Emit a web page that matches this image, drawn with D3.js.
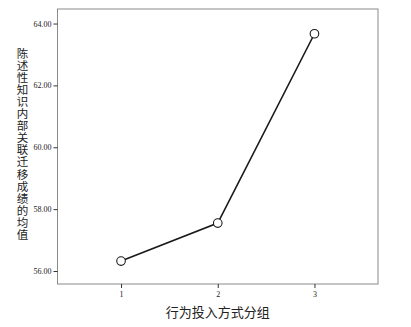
<!DOCTYPE html>
<html><head><meta charset="utf-8">
<script src="https://cdn.jsdelivr.net/npm/d3@7"></script>
<style>body{margin:0;background:#fff}svg{display:block}</style>
</head><body><svg id="c" width="411" height="327"></svg>
<script>
const categories = [1, 2, 3];
const means = [56.32, 57.55, 63.67];
const yTicks = [56, 58, 60, 62, 64];
const xTitle = "行为投入方式分组";
const yTitle = "陈述性知识内部关联迁移成绩的均值";

const svg = d3.select("#c");
const L = 57.5, R = 378, T = 9, B = 284;
const x = d3.scaleLinear().domain([0.343, 3.657]).range([L, R]);
const y = d3.scaleLinear().domain([55.58, 64.47]).range([B, T]);

svg.append("rect").attr("x", L).attr("y", T).attr("width", R - L).attr("height", B - T)
  .attr("fill", "none").attr("stroke", "#8a8a8a").attr("stroke-width", 1);

const ya = svg.append("g").attr("transform", `translate(${L},0)`)
  .call(d3.axisLeft(y).tickValues(yTicks).tickFormat(d3.format(".2f")).tickSize(4).tickPadding(2));
ya.select(".domain").remove();
ya.selectAll("text").attr("font-family", "Liberation Serif, serif").attr("font-size", 8).attr("fill", "#222");
ya.selectAll("line").attr("stroke", "#333");

const xa = svg.append("g").attr("transform", `translate(0,${B})`)
  .call(d3.axisBottom(x).tickValues(categories).tickFormat(d3.format("d")).tickSize(4).tickPadding(3));
xa.select(".domain").remove();
xa.selectAll("text").attr("font-family", "Liberation Serif, serif").attr("font-size", 8).attr("fill", "#222");
xa.selectAll("line").attr("stroke", "#333");

const pts = categories.map((c, i) => [x(c), y(means[i])]);
svg.append("path").attr("d", d3.line()(pts)).attr("fill", "none")
  .attr("stroke", "#1a1a1a").attr("stroke-width", 1.6);
svg.selectAll("circle.p").data(pts).enter().append("circle")
  .attr("cx", d => d[0]).attr("cy", d => d[1]).attr("r", 4.3)
  .attr("fill", "#fff").attr("stroke", "#1a1a1a").attr("stroke-width", 1.1);

svg.append("text").attr("x", (L + R) / 2).attr("y", 317).attr("text-anchor", "middle")
  .attr("font-family", "Noto Sans CJK SC, sans-serif").attr("font-size", 13).attr("fill", "#222")
  .text(xTitle);

const yt = svg.append("g");
const chars = Array.from(yTitle);
chars.forEach((ch, i) => {
  yt.append("text").attr("x", 22.5).attr("y", 57.5 + i * 12.1).attr("text-anchor", "middle")
    .attr("font-family", "Noto Sans CJK SC, sans-serif").attr("font-size", 11.5).attr("fill", "#222")
    .text(ch);
});
</script></body></html>
